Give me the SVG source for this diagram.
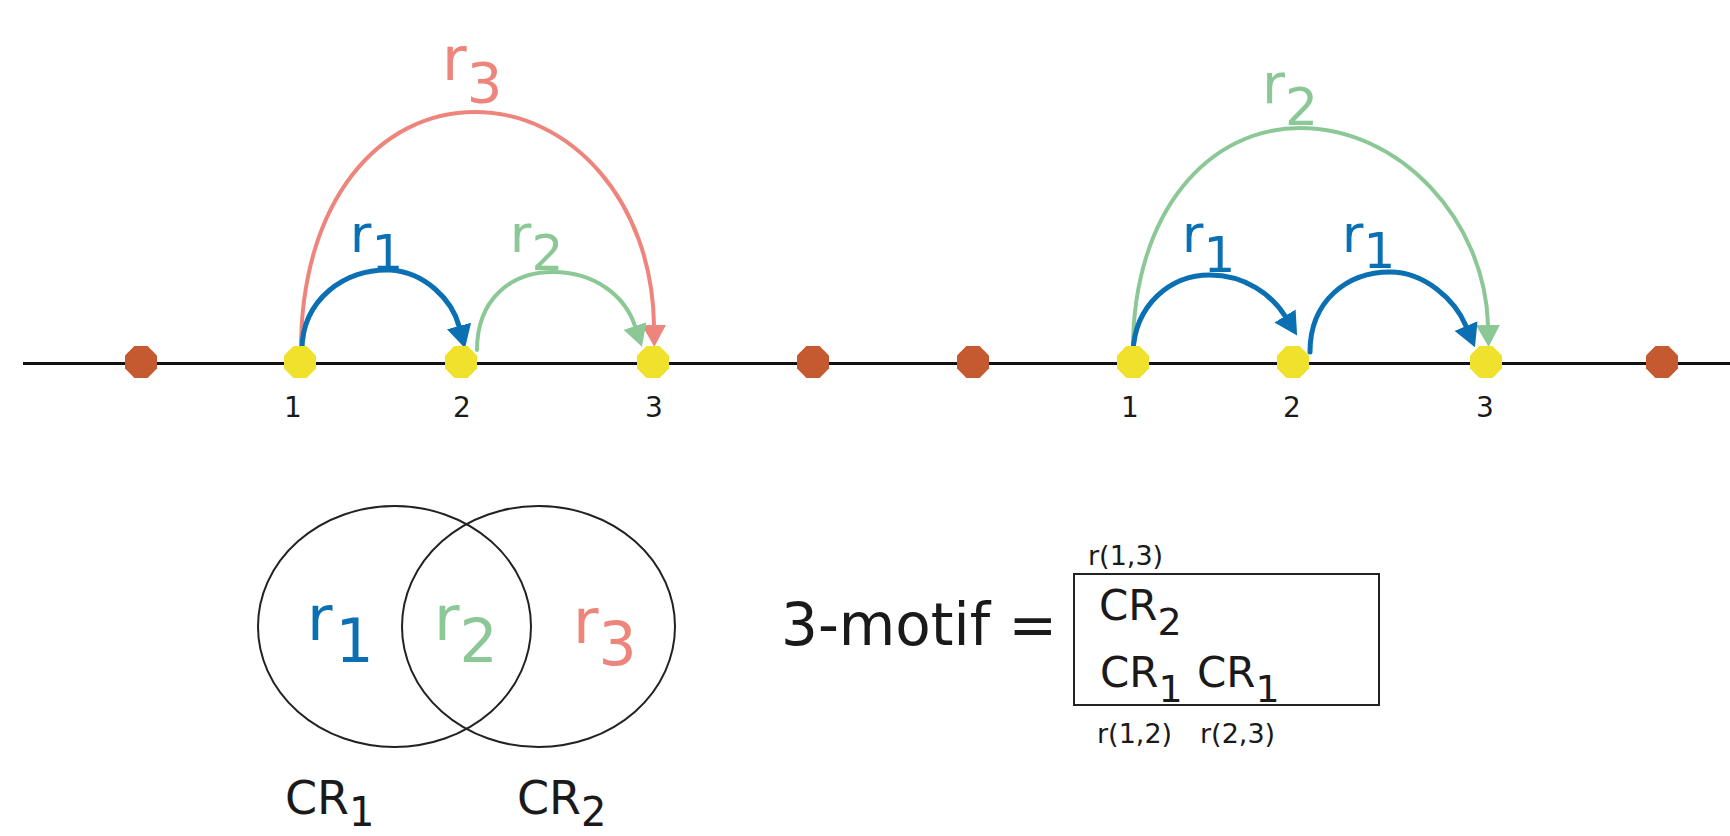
<svg xmlns="http://www.w3.org/2000/svg" xmlns:xlink="http://www.w3.org/1999/xlink" width="1730" height="836" viewBox="0 0 1730 836">
<style>
  .txt { font-family: "DejaVu Sans", "Liberation Sans", sans-serif; fill: #1a1a1a; }
  .lbl { font-family: "DejaVu Sans", "Liberation Sans", sans-serif; }
  .blue { fill: #0b6fb4; }
  .green { fill: #8cc896; }
  .salmon { fill: #ee857c; }
  .yel { fill: #f0e22c; }
  .org { fill: #c55a31; }
  .arc { fill: none; stroke-linecap: round; }
  .arc-blue { stroke: #0b6fb4; stroke-width: 5; }
  .arc-green { stroke: #8cc896; stroke-width: 4; }
  .arc-salmon { stroke: #ee857c; stroke-width: 4; }
  .shape { fill: none; stroke: #222; stroke-width: 2; }
</style>
<defs>
  <polygon id="oct" points="-6.6,-16 6.6,-16 16,-6.6 16,6.6 6.6,16 -6.6,16 -16,6.6 -16,-6.6"/>
  <marker id="ah-blue" viewBox="0 0 10 10" refX="0" refY="5" markerWidth="23" markerHeight="25" markerUnits="userSpaceOnUse" orient="auto" preserveAspectRatio="none">
    <path d="M0,0 L10,5 L0,10 z" fill="#0b6fb4"/>
  </marker>
  <marker id="ah-green" viewBox="0 0 10 10" refX="0" refY="5" markerWidth="22" markerHeight="24" markerUnits="userSpaceOnUse" orient="auto" preserveAspectRatio="none">
    <path d="M0,0 L10,5 L0,10 z" fill="#8cc896"/>
  </marker>
  <marker id="ah-salmon" viewBox="0 0 10 10" refX="0" refY="5" markerWidth="22" markerHeight="24" markerUnits="userSpaceOnUse" orient="auto" preserveAspectRatio="none">
    <path d="M0,0 L10,5 L0,10 z" fill="#ee857c"/>
  </marker>
</defs>
<rect width="1730" height="836" fill="#ffffff"/>

<line x1="23" y1="363.5" x2="1730" y2="363.5" stroke="#111" stroke-width="3"/>

<g id="connectors">
  <path class="arc arc-salmon" d="M301,350 C301,200 380,112 475,112 C570,112 652,200 654,325" marker-end="url(#ah-salmon)"/>
  <path class="arc arc-blue" d="M302,350 C302,300 345,268 390,270 C425,272 452,300 459,326" marker-end="url(#ah-blue)"/>
  <path class="arc arc-green" d="M477,350 C477,300 510,272 553,272 C595,272 625,296 635,326" marker-end="url(#ah-green)"/>
  <path class="arc arc-green" d="M1133,350 C1133,210 1210,128 1300,128 C1400,128 1485,220 1488,325" marker-end="url(#ah-green)"/>
  <path class="arc arc-blue" d="M1133,352 C1135,305 1170,275 1210,275 C1245,275 1272,295 1285,316" marker-end="url(#ah-blue)"/>
  <path class="arc arc-blue" d="M1310,352 C1310,300 1348,272 1390,272 C1425,272 1455,300 1466,326" marker-end="url(#ah-blue)"/>
</g>

<g id="edge-labels">
  <text class="lbl salmon" x="442" y="80" font-size="60">r<tspan font-size="56" dy="22">3</tspan></text>
  <text class="lbl blue" x="350" y="252" font-size="52">r<tspan font-size="50" dy="18">1</tspan></text>
  <text class="lbl green" x="510" y="252" font-size="52">r<tspan font-size="50" dy="18">2</tspan></text>
  <text class="lbl green" x="1262" y="103" font-size="56">r<tspan font-size="52" dy="22">2</tspan></text>
  <text class="lbl blue" x="1182" y="252" font-size="52">r<tspan font-size="50" dy="20">1</tspan></text>
  <text class="lbl blue" x="1342" y="252" font-size="52">r<tspan font-size="50" dy="16">1</tspan></text>
</g>

<g id="node-o1"><use xlink:href="#oct" x="141" y="362" class="org"/></g>
<g id="node-a1"><use xlink:href="#oct" x="300" y="362" class="yel"/><text class="txt" x="293" y="417" font-size="28" text-anchor="middle">1</text></g>
<g id="node-a2"><use xlink:href="#oct" x="461" y="362" class="yel"/><text class="txt" x="462" y="417" font-size="28" text-anchor="middle">2</text></g>
<g id="node-a3"><use xlink:href="#oct" x="653" y="362" class="yel"/><text class="txt" x="654" y="417" font-size="28" text-anchor="middle">3</text></g>
<g id="node-o2"><use xlink:href="#oct" x="813" y="362" class="org"/></g>
<g id="node-o3"><use xlink:href="#oct" x="973" y="362" class="org"/></g>
<g id="node-b1"><use xlink:href="#oct" x="1133" y="362" class="yel"/><text class="txt" x="1130" y="417" font-size="28" text-anchor="middle">1</text></g>
<g id="node-b2"><use xlink:href="#oct" x="1293" y="362" class="yel"/><text class="txt" x="1292" y="417" font-size="28" text-anchor="middle">2</text></g>
<g id="node-b3"><use xlink:href="#oct" x="1486" y="362" class="yel"/><text class="txt" x="1485" y="417" font-size="28" text-anchor="middle">3</text></g>
<g id="node-o4"><use xlink:href="#oct" x="1662" y="362" class="org"/></g>

<g id="venn-cr1">
  <ellipse class="shape" cx="394.5" cy="626.5" rx="136.5" ry="120.5"/>
  <text class="lbl blue" x="307" y="640" font-size="62">r<tspan font-size="60" dx="3" dy="22">1</tspan></text>
  <text class="txt" x="285" y="814" font-size="46">CR<tspan font-size="40" dy="12">1</tspan></text>
</g>
<g id="venn-cr2">
  <ellipse class="shape" cx="538.5" cy="626.5" rx="136.5" ry="120.5"/>
  <text class="lbl green" x="434" y="640" font-size="62">r<tspan font-size="60" dy="22">2</tspan></text>
  <text class="lbl salmon" x="573" y="643" font-size="62">r<tspan font-size="60" dy="22">3</tspan></text>
  <text class="txt" x="517" y="814" font-size="46">CR<tspan font-size="40" dy="12">2</tspan></text>
</g>

<g id="motif">
  <text class="txt" x="781" y="645" font-size="58">3-motif =</text>
  <rect class="shape" x="1074" y="574" width="305" height="131"/>
  <text class="txt" x="1088" y="565" font-size="27">r(1,3)</text>
  <text class="txt" x="1099" y="620" font-size="42">CR<tspan font-size="38" dy="15">2</tspan></text>
  <text class="txt" x="1100" y="687" font-size="42">CR<tspan font-size="38" dy="15">1</tspan></text>
  <text class="txt" x="1197" y="687" font-size="42">CR<tspan font-size="38" dy="15">1</tspan></text>
  <text class="txt" x="1097" y="743" font-size="27">r(1,2)</text>
  <text class="txt" x="1200" y="743" font-size="27">r(2,3)</text>
</g>
</svg>
